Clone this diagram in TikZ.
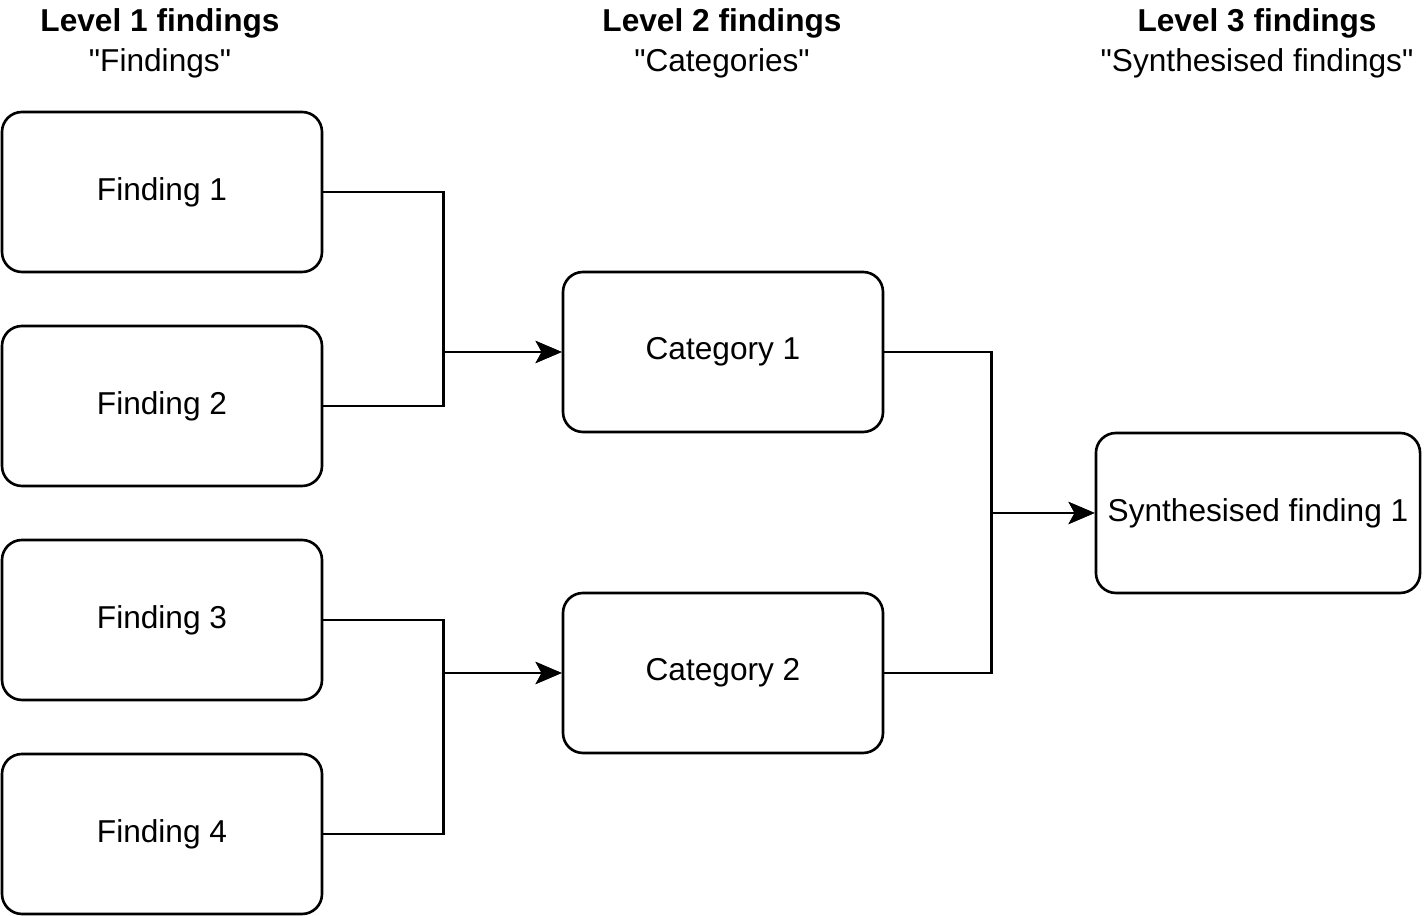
\documentclass[tikz,border=0pt]{standalone}
\usepackage{fontspec}
\setmainfont{Liberation Sans}[Ligatures=TeXOff]
\usetikzlibrary{arrows.meta}
\tikzset{
  findbox/.style={draw, rounded corners=0.2cm, line width=0.75pt, minimum width=3.2cm, minimum height=1.6cm, font=\fontsize{9}{11}\selectfont},
  headtxt/.style={font=\fontsize{9}{11}\selectfont},
  conn/.style={line width=0.75pt, -{Stealth[length=2.6mm, width=2.2mm, inset=0.6mm]}}
}
\begin{document}
\begin{tikzpicture}
\useasboundingbox (0,0) rectangle (14.24,9.16);
%Headers
\node[headtxt] (h1) at (1.60,8.93) {\textbf{Level 1 findings}};
\node[headtxt] (h1b) at (1.60,8.53) {"Findings"};
\node[headtxt] (h2) at (7.22,8.93) {\textbf{Level 2 findings}};
\node[headtxt] (h2b) at (7.22,8.53) {"Categories"};
\node[headtxt] (h3) at (12.57,8.93) {\textbf{Level 3 findings}};
\node[headtxt] (h3b) at (12.57,8.53) {"Synthesised findings"};

%Findings
\node[findbox] (f1) at (1.62,7.24) {Finding 1};
\node[findbox] (f2) at (1.62,5.10) {Finding 2};
\node[findbox] (f3) at (1.62,2.96) {Finding 3};
\node[findbox] (f4) at (1.62,0.82) {Finding 4};

%Categories
\node[findbox] (c1) at (7.23,5.64) {Category 1};
\node[findbox] (c2) at (7.23,2.43) {Category 2};

%Synthesised
\node[findbox] (s1) at (12.58,4.03) {Synthesised finding 1};

%Connectors
\draw[conn] (f1.east) -- ++(1.2,0) |- (c1.west);
\draw[conn] (f2.east) -- ++(1.2,0) |- (c1.west);
\draw[conn] (f3.east) -- ++(1.2,0) |- (c2.west);
\draw[conn] (f4.east) -- ++(1.2,0) |- (c2.west);
\draw[conn] (c1.east) -- ++(1.07,0) |- (s1.west);
\draw[conn] (c2.east) -- ++(1.07,0) |- (s1.west);
\end{tikzpicture}
\end{document}
